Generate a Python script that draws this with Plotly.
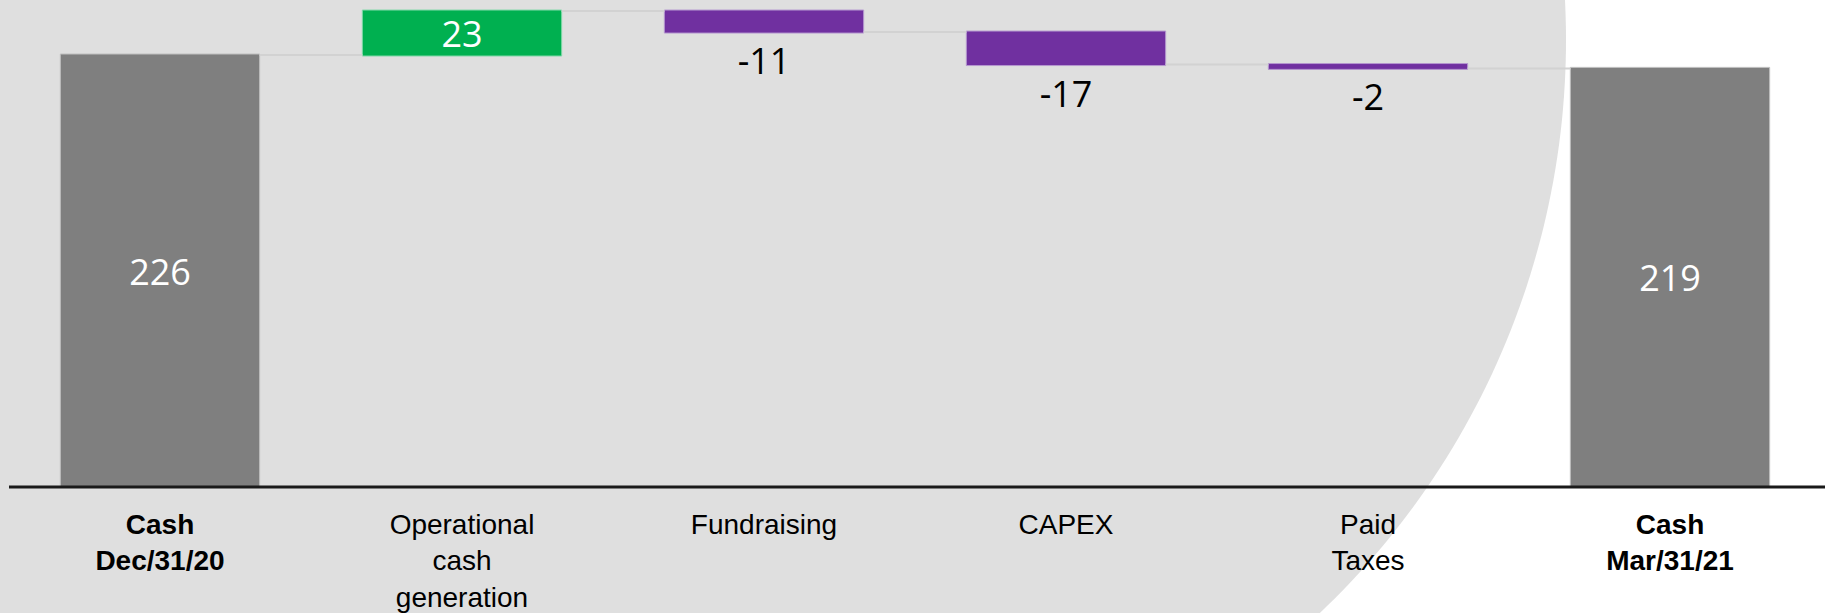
import numpy as np
import plotly.graph_objects as go

# cash bridge, values
categories = ["Cash Dec/31/20", "Operational cash generation", "Fundraising",
              "CAPEX", "Paid Taxes", "Cash Mar/31/21"]
measures = ["absolute", "relative", "relative", "relative", "relative", "total"]
values = [226, 23, -11, -17, -2, 219]
tick_labels = ["<b>Cash</b><br><b>Dec/31/20</b>", "Operational<br>cash<br>generation",
               "Fundraising", "CAPEX", "Paid<br>Taxes", "<b>Cash</b><br><b>Mar/31/21</b>"]
text_pos = ["inside", "inside", "outside", "outside", "outside", "inside"]

W, H = 1825, 613
ML, MR, MT, MB = 9, 4, 0, 126
PW, PH = W - ML - MR, H - MT - MB

fig = go.Figure(go.Waterfall(
    x=categories,
    y=values,
    measure=measures,
    text=[str(v) for v in values],
    textinfo="text",
    textposition=text_pos,
    textangle=0,
    insidetextanchor="middle",
    constraintext="none",
    insidetextfont=dict(color="white", size=36, family="Open Sans, Calibri, sans-serif"),
    outsidetextfont=dict(color="black", size=36, family="Open Sans, Calibri, sans-serif"),
    increasing=dict(marker=dict(color="#00B050", line=dict(color="#7FD8A7", width=1))),
    decreasing=dict(marker=dict(color="#7030A0", line=dict(color="#B597CF", width=1))),
    totals=dict(marker=dict(color="#7F7F7F", line=dict(color="#BFBFBF", width=1))),
    connector=dict(mode="between", line=dict(color="#D2D2D2", width=2)),
    hoverinfo="skip",
))

# big light-grey disc behind the chart (decoration), built in pixels then mapped to paper
cx, cy, R = 776, 40, 790
a0 = np.arcsin((-10 - cy) / R)
a1 = np.arcsin((H + 10 - cy) / R)
ang = np.linspace(a0, a1, 60)
px = cx + R * np.cos(ang)
py = cy + R * np.sin(ang)

def to_paper(x, y):
    return (x - ML) / PW, 1 - (y - MT) / PH

pts = [to_paper(-20, -10)] + [to_paper(x, y) for x, y in zip(px, py)] + [to_paper(-20, H + 10)]
path = "M " + " L ".join(f"{x:.5f},{y:.5f}" for x, y in pts) + " Z"

fig.add_shape(type="path", path=path, xref="paper", yref="paper",
              fillcolor="#DFDFDF", line=dict(width=0), layer="below")

# baseline running all the way to the right edge
fig.add_shape(type="line", xref="paper", yref="paper", x0=0, x1=to_paper(W + 5, 0)[0],
              y0=0, y1=0, line=dict(color="#1A1A1A", width=3), layer="above")

fig.update_layout(
    width=W, height=H,
    margin=dict(l=ML, r=MR, t=MT, b=MB),
    paper_bgcolor="white",
    plot_bgcolor="rgba(0,0,0,0)",
    waterfallgap=0.34,
    showlegend=False,
    font=dict(family="Liberation Sans, Arial, sans-serif", color="black"),
)
fig.update_xaxes(
    tickmode="array", tickvals=categories, ticktext=tick_labels,
    tickfont=dict(size=28, family="Liberation Sans, Arial, sans-serif", color="black"),
    showline=False,
    showgrid=False, ticks="", ticklabelstandoff=18,
    automargin=False,
    range=[-0.5, 5.5],
)
fig.update_yaxes(range=[0, 487 * 226 / 432], visible=False, showgrid=False, zeroline=False)

fig.write_html("out.html", config={"displayModeBar": False},
               post_script="document.body.style.margin='0px';")
